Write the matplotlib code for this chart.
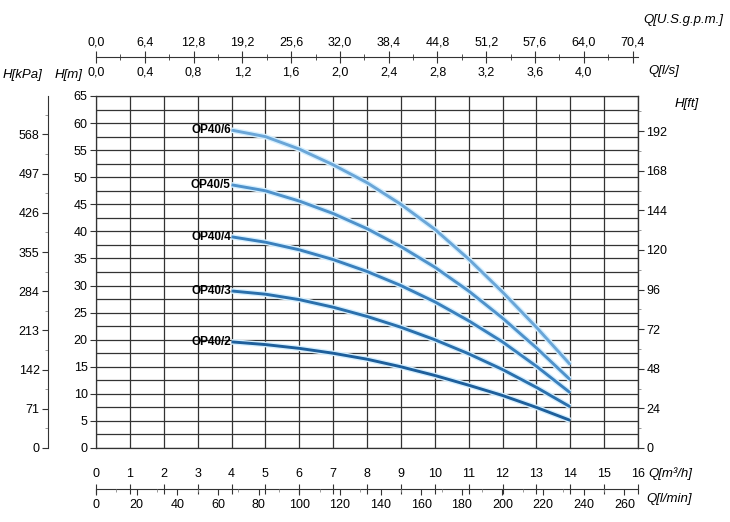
import matplotlib
matplotlib.use("Agg")
from matplotlib import pyplot as plt
from matplotlib import patheffects as pe
from matplotlib.ticker import MultipleLocator, FuncFormatter

plt.rcParams['font.family'] = ['Liberation Sans', 'DejaVu Sans']

# flow points, m3/h
q = [4, 5, 6, 7, 8, 9, 10, 11, 12, 13, 14]
# head in m
h_op6 = [58.7, 57.5, 55.2, 52.3, 49.0, 45.0, 40.4, 34.9, 28.8, 22.3, 15.4]
h_op5 = [48.6, 47.5, 45.6, 43.3, 40.5, 37.2, 33.4, 29.0, 24.0, 18.5, 12.6]
h_op4 = [39.0, 38.0, 36.6, 34.8, 32.6, 30.0, 27.0, 23.5, 19.6, 15.1, 10.2]
h_op3 = [29.0, 28.4, 27.4, 26.0, 24.3, 22.3, 20.0, 17.4, 14.5, 11.2, 7.6]
h_op2 = [19.6, 19.1, 18.4, 17.5, 16.4, 15.0, 13.4, 11.6, 9.7, 7.5, 5.1]
names = ['OP40/6', 'OP40/5', 'OP40/4', 'OP40/3', 'OP40/2']
colors = ['#6aa6d8', '#4f92cb', '#3a80bd', '#2a70ad', '#1d5f9c']

kpa_ticks = [0, 71, 142, 213, 284, 355, 426, 497, 568]
ft_ticks = [0, 24, 48, 72, 96, 120, 144, 168, 192]
ls_ticks = [0.0, 0.4, 0.8, 1.2, 1.6, 2.0, 2.4, 2.8, 3.2, 3.6, 4.0]
gpm_ticks = [0.0, 6.4, 12.8, 19.2, 25.6, 32.0, 38.4, 44.8, 51.2, 57.6, 64.0, 70.4]
m3h_ticks = list(range(0, 17))
lmin_ticks = list(range(0, 261, 20))

W, H = 730, 522
L, R, T, B = 96, 638, 96, 448
fx = lambda px: px / W
fy = lambda py: (H - py) / H
dark = '#333333'
fs = 9

fig = plt.figure(figsize=(7.3, 5.22), dpi=100)
ax = fig.add_axes([fx(L), fy(B), fx(R - L), (B - T) / H])
ax.set_xlim(0, 16)
ax.set_ylim(0, 65)
ax.set_xticks(range(17))
ax.yaxis.set_major_locator(MultipleLocator(5))
ax.yaxis.set_minor_locator(MultipleLocator(2.5))
ax.tick_params(axis='x', length=0, labelbottom=False)
ax.tick_params(axis='y', which='major', length=4, width=0.8, color=dark, labelsize=fs, pad=2)
ax.tick_params(axis='y', which='minor', length=0)
ax.grid(True, which='major', color=dark, lw=0.9)
ax.grid(True, which='minor', axis='y', color=dark, lw=0.9)
for s in ax.spines.values():
    s.set_color(dark)
    s.set_linewidth(0.9)

for name, hv, c in zip(names, [h_op6, h_op5, h_op4, h_op3, h_op2], colors):
    ax.plot(q, hv, color=c, lw=2.1, solid_capstyle='butt', solid_joinstyle='round',
            path_effects=[pe.Stroke(linewidth=4, foreground='#d6f0ff'), pe.Normal()])
    ax.text(3.98, hv[0], name, ha='right', va='center', fontsize=8.5, fontweight='bold')

# right axis in ft
axf = ax.twinx()
axf.set_ylim(0, 65 / 0.3048)
axf.set_yticks(ft_ticks)
axf.yaxis.set_minor_locator(MultipleLocator(12))
axf.tick_params(axis='y', which='major', length=4, width=0.8, color=dark, labelsize=fs, pad=2)
axf.tick_params(axis='y', which='minor', length=2, width=0.6, color='#888888')
for s in axf.spines.values():
    s.set_visible(False)
axf.spines['right'].set_visible(True)
axf.spines['right'].set_color(dark)

# left axis in kPa
axk = fig.add_axes([fx(48), fy(B), 1e-4, (B - T) / H])
axk.set_ylim(0, 65 * 9.81)
axk.set_yticks(kpa_ticks)
axk.yaxis.set_minor_locator(MultipleLocator(35.5))
axk.tick_params(axis='y', which='major', length=4, width=0.8, color=dark, labelsize=fs, pad=2)
axk.tick_params(axis='y', which='minor', length=2, width=0.6, color='#888888')
axk.set_xticks([])
for k in ['top', 'right', 'bottom']:
    axk.spines[k].set_visible(False)
axk.spines['left'].set_color(dark)
axk.patch.set_visible(False)

comma = FuncFormatter(lambda v, p: f"{v:.1f}".replace('.', ','))

# top flow axis: l/s below, US gpm above
axt = fig.add_axes([fx(L), fy(57), fx(R - L), 1e-4])
axg = axt.twiny()
axt.set_xlim(0, 16 / 3.6)
axt.xaxis.set_ticks_position('bottom')
axt.set_xticks(ls_ticks + [4.4])
axt.set_xticklabels([f"{v:.1f}".replace('.', ',') for v in ls_ticks] + [''])
axt.xaxis.set_minor_locator(MultipleLocator(0.2))
axt.tick_params(axis='x', which='major', direction='inout', length=9, width=0.8, color=dark,
                labelsize=fs, pad=2)
axt.tick_params(axis='x', which='minor', direction='inout', length=4, width=0.6, color=dark)
axt.set_yticks([])
for k in ['top', 'left', 'right']:
    axt.spines[k].set_visible(False)
axt.spines['bottom'].set_color(dark)
axt.patch.set_visible(False)

axg.set_xlim(0, 16 / 3.6 * 16)
axg.set_xticks(gpm_ticks)
axg.xaxis.set_major_formatter(comma)
axg.tick_params(axis='x', length=0, labelsize=fs, pad=6)
for s in axg.spines.values():
    s.set_visible(False)

# bottom flow axis: m3/h above, l/min below
axb = fig.add_axes([fx(L), fy(489), fx(R - L), 1e-4])
axl = axb.twiny()
axb.set_xlim(0, 16)
axb.xaxis.set_ticks_position('top')
axb.set_xticks(m3h_ticks)
axb.tick_params(axis='x', which='major', bottom=False, labelbottom=False, top=True, labeltop=True,
                direction='inout', length=7, width=0.8, color=dark, labelsize=fs, pad=3)
axb.set_yticks([])
for k in ['top', 'left', 'right']:
    axb.spines[k].set_visible(False)
axb.spines['bottom'].set_color(dark)
axb.patch.set_visible(False)

axl.set_xlim(0, 16 * 1000 / 60)
axl.xaxis.set_ticks_position('bottom')
axl.set_xticks(lmin_ticks)
axl.xaxis.set_minor_locator(MultipleLocator(10))
axl.tick_params(axis='x', which='major', bottom=True, labelbottom=True, top=False, labeltop=False,
                direction='out', length=4, width=0.8, color=dark, labelsize=fs, pad=3)
axl.tick_params(axis='x', which='minor', bottom=True, top=False,
                direction='out', length=2, width=0.6, color='#888888')
for s in axl.spines.values():
    s.set_visible(False)

# axis titles
tk = dict(fontsize=9.5, style='italic')
fig.text(fx(3), fy(75), 'H[kPa]', va='center', ha='left', **tk)
fig.text(fx(55), fy(75), 'H[m]', va='center', ha='left', **tk)
fig.text(fx(675), fy(104), 'H[ft]', va='center', ha='left', **tk)
fig.text(fx(643), fy(20), 'Q[U.S.g.p.m.]', va='center', ha='left', **tk)
fig.text(fx(648), fy(71), 'Q[l/s]', va='center', ha='left', **tk)
fig.text(fx(648), fy(474), 'Q[m³/h]', va='center', ha='left', **tk)
fig.text(fx(646), fy(499), 'Q[l/min]', va='center', ha='left', **tk)

fig.savefig('out.png', dpi=100)
